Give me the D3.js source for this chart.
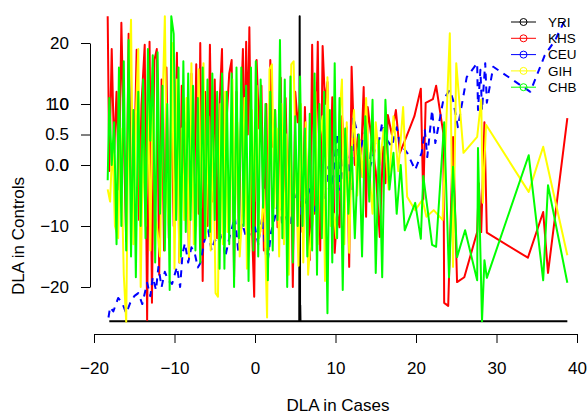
<!DOCTYPE html>
<html>
<head>
<meta charset="utf-8">
<script src="https://cdn.jsdelivr.net/npm/d3@7"></script>
<style>
  body { margin: 0; background: #fff; }
  svg { font-family: "Liberation Sans", Arial, sans-serif; }
</style>
</head>
<body>
<svg id="chart" width="587" height="414"></svg>
<script>
// series names, in drawing order
var groups = ["YRI", "KHS", "CEU", "GIH", "CHB"];
var xTicks = [-20, -10, 0, 10, 20, 30, 40];
var yTicks = [-20, -10, 0, 10, 20];
var yTicksSmall = [0.0, 0.5, 1.0];

// [DLA in Cases, DLA in Controls]
var yri = [[-18.1,-25.6],[-10.0,-25.6],[0.0,-25.6],[5.5,-25.6],[5.55,24.4],[5.6,-25.6],[5.62,-23.0],[5.65,-25.6],
  [10.0,-25.6],[20.0,-25.6],[30.0,-25.6],[38.8,-25.6]];

var khs = [[-18.3,24.4],[-18.1,-1.0],[-17.8,19.0],[-17.5,2.0],[-17.2,12.0],[-16.9,-4.0],[-16.6,23.3],[-16.3,5.0],
  [-16.0,-12.5],[-15.7,21.5],[-15.4,-4.0],[-15.1,-6.0],[-14.7,18.9],[-14.4,-9.0],[-14.1,10.0],[-13.7,19.7],
  [-13.4,-25.4],[-13.1,20.2],[-12.8,-22.6],[-12.5,17.2],[-12.2,19.0],[-11.9,-18.0],[-11.6,14.0],[-11.3,-14.0],
  [-11.0,16.0],[-10.7,-12.0],[-10.4,11.0],[-10.1,-10.0],[-9.7,18.4],[-9.4,-16.0],[-9.1,13.0],[-8.8,-6.0],
  [-8.5,7.0],[-8.2,-15.1],[-7.9,15.0],[-7.6,-9.0],[-7.3,16.5],[-7.0,-8.0],[-6.8,20.0],[-6.5,-19.0],
  [-6.2,12.0],[-5.9,-10.0],[-5.6,19.7],[-5.3,-6.0],[-5.0,14.0],[-4.7,-12.0],[-4.4,10.0],[-4.1,19.0],
  [-3.8,-10.2],[-3.5,8.0],[-3.2,15.0],[-2.9,17.2],[-2.6,-18.4],[-2.3,12.0],[-2.0,-12.0],[-1.7,11.0],
  [-1.5,19.0],[-1.3,0.0],[-1.1,20.2],[-0.9,5.0],[-0.7,22.6],[-0.4,-9.0],[-0.1,-21.6],[0.2,17.2],
  [0.5,6.0],[0.8,13.0],[1.1,-14.0],[1.4,10.0],[1.7,-13.9],[1.9,17.2],[2.2,3.0],[2.5,9.0],
  [2.8,-10.2],[3.2,14.3],[3.5,-12.0],[3.8,11.0],[4.1,-6.0],[4.4,8.0],[4.7,-20.0],[5.0,12.0],
  [5.3,7.0],[5.6,10.0],[5.9,-11.0],[6.2,9.5],[6.5,-5.0],[6.8,-15.6],[7.1,19.7],[7.4,-8.0],
  [7.8,20.2],[8.1,-14.0],[8.4,19.5],[8.7,10.0],[9.0,13.6],[9.3,-6.0],[9.6,11.1],[9.9,-14.4],
  [10.2,-8.0],[10.5,-10.2],[10.8,8.0],[11.1,3.0],[11.4,6.2],[11.7,-16.7],[12.0,16.1],[12.4,0.0],
  [12.8,5.0],[13.1,-2.0],[13.5,12.8],[13.8,-8.5],[14.0,9.5],[14.5,4.0],[15.0,-1.0],[15.5,-11.8],
  [15.9,3.0],[16.2,-3.0],[16.5,8.2],[17.0,5.0],[17.5,9.0],[18.0,2.0],[18.8,4.6],[19.8,8.0],
  [20.6,12.5],[20.9,-5.7],[21.2,10.2],[22.1,10.8],[22.5,13.0],[23.4,5.2],[23.5,-22.6],[24.0,-23.1],
  [24.6,4.6],[25.1,-19.2],[26.0,-18.4],[27.6,-11.0],[27.8,-3.0],[28.1,-11.0],[28.5,7.0],[28.8,-11.1],
  [33.9,-15.2],[35.8,-7.7],[36.4,-17.7],[38.8,7.7]];

var ceu = [[-18.2,-25.0],[-18.0,-23.3],[-17.6,-24.0],[-17.0,-21.8],[-16.5,-22.6],[-16.0,-24.3],[-15.5,-22.6],[-15.0,-21.5],
  [-14.5,-21.0],[-14.0,-22.8],[-13.4,-19.3],[-13.0,-21.5],[-12.7,-18.4],[-12.3,-20.5],[-12.0,-16.7],[-11.6,-20.0],
  [-11.2,-17.5],[-10.8,-18.9],[-10.3,-19.5],[-9.7,-16.7],[-9.3,-20.0],[-9.0,-14.5],[-8.7,-12.8],[-8.3,-16.0],
  [-7.9,-13.5],[-7.5,-14.4],[-7.1,-16.8],[-6.8,-16.1],[-6.3,-12.5],[-5.8,-10.7],[-5.4,-14.0],[-5.0,-12.3],
  [-4.5,-13.0],[-4.1,-11.0],[-3.7,-15.1],[-3.2,-12.0],[-2.8,-10.0],[-2.5,-8.5],[-2.1,-13.9],[-1.6,-9.5],
  [-1.0,-12.3],[-0.5,-11.0],[0.0,-10.2],[0.4,-13.0],[0.9,-8.5],[1.2,-12.5],[1.5,-16.7],[2.0,-11.0],
  [2.5,-8.5],[2.9,-5.7],[3.4,-10.0],[4.0,-7.4],[4.4,-9.5],[4.8,-6.0],[5.2,-4.6],[5.6,-8.0],
  [6.0,-2.5],[6.2,-6.2],[6.8,-4.0],[7.4,-7.5],[8.0,-3.0],[8.7,-5.7],[9.1,-0.3],[9.6,-3.5],
  [10.2,5.2],[10.6,-4.1],[11.0,1.0],[11.4,2.0],[11.8,-2.0],[12.0,-4.1],[12.2,7.9],[12.8,4.9],
  [13.2,3.0],[13.7,5.7],[14.3,-0.3],[14.9,2.5],[15.4,4.0],[15.8,6.9],[16.1,4.6],[17.0,3.0],
  [17.6,6.2],[18.0,3.6],[18.9,2.0],[19.9,-0.8],[20.7,2.0],[21.1,5.7],[21.4,1.3],[22.0,9.0],
  [22.4,3.6],[23.4,10.7],[24.2,12.3],[24.6,10.7],[25.2,6.2],[26.3,14.4],[27.6,16.7],[27.7,9.0],
  [28.0,15.6],[28.2,9.0],[28.6,16.7],[28.8,10.2],[29.6,16.1],[34.2,12.0],[36.0,18.0],[37.3,20.5],
  [38.5,23.8]];

var gih = [[-18.3,-4.0],[-18.0,-6.0],[-17.7,4.0],[-17.4,-10.0],[-17.0,-12.0],[-16.7,6.0],[-16.3,-18.0],[-16.0,-25.7],
  [-15.7,10.0],[-15.4,23.8],[-15.1,-13.0],[-14.8,8.0],[-14.5,19.0],[-14.2,-20.0],[-13.9,5.0],[-13.6,-10.0],
  [-13.3,12.0],[-13.0,-14.0],[-12.7,16.0],[-12.4,-8.0],[-12.1,-11.0],[-11.8,-15.0],[-11.5,9.0],[-11.2,24.4],
  [-10.9,-6.0],[-10.6,-12.0],[-10.3,20.0],[-10.0,-17.0],[-9.7,14.0],[-9.4,-16.0],[-9.1,6.0],[-8.8,-9.0],
  [-8.5,11.0],[-8.2,-15.0],[-7.9,16.7],[-7.6,-13.0],[-7.3,-10.0],[-7.0,15.7],[-6.7,-7.0],[-6.4,16.7],
  [-6.1,-12.0],[-5.8,8.0],[-5.5,-14.0],[-5.2,5.0],[-4.9,-21.0],[-4.6,-21.6],[-4.3,10.0],[-4.0,-13.0],
  [-3.7,12.0],[-3.4,-11.0],[-3.1,-9.0],[-2.8,14.0],[-2.5,-9.0],[-2.2,7.0],[-1.9,-15.0],[-1.6,-8.0],
  [-1.3,11.0],[-1.0,-17.0],[-0.7,-14.0],[-0.4,9.0],[-0.1,-6.0],[0.2,13.0],[0.5,-12.0],[0.8,-10.0],
  [1.1,-4.0],[1.5,-25.0],[1.8,15.7],[2.1,16.5],[2.4,-7.0],[2.7,6.0],[3.0,-15.0],[3.3,10.0],
  [3.6,-13.0],[3.9,5.0],[4.2,-18.0],[4.5,16.5],[4.8,17.0],[5.1,-3.0],[5.4,-16.5],[5.7,10.0],
  [6.0,-16.0],[6.3,7.0],[6.6,-18.0],[6.9,-12.0],[7.2,-9.0],[7.5,12.0],[7.8,-13.0],[8.1,5.0],
  [8.4,8.0],[8.7,-19.0],[9.0,14.4],[9.4,-10.0],[9.8,-8.0],[10.1,-12.0],[10.5,8.0],[10.8,14.0],
  [11.1,-13.0],[11.4,7.0],[11.7,-14.4],[12.0,2.0],[12.3,9.0],[12.7,-5.0],[13.0,4.0],[13.4,-2.0],
  [13.8,11.0],[14.1,1.0],[14.6,-8.0],[15.0,7.0],[15.5,0.0],[16.0,6.0],[16.6,-4.0],[17.2,8.0],
  [17.8,-1.0],[18.4,9.5],[18.9,-5.2],[19.9,-7.4],[20.8,-5.7],[21.3,-8.5],[22.2,-7.4],[23.3,-9.0],
  [24.2,21.6],[24.6,-16.7],[25.0,16.7],[25.9,2.0],[27.6,4.6],[28.1,10.7],[28.3,-6.2],[28.7,6.6],
  [34.0,-4.4],[35.8,3.0],[38.8,-14.8]];

var chb = [[-18.3,-2.5],[-18.1,11.0],[-17.8,0.0],[-17.5,7.0],[-17.2,-13.0],[-16.9,16.0],[-16.6,-10.0],[-16.3,17.0],
  [-16.0,-14.0],[-15.7,20.5],[-15.4,-15.0],[-15.1,9.0],[-14.8,-18.4],[-14.5,12.0],[-14.2,-10.0],[-13.9,14.0],
  [-13.6,-12.0],[-13.3,19.0],[-13.0,4.0],[-12.7,18.0],[-12.4,-16.0],[-12.1,18.5],[-11.8,-8.0],[-11.5,13.0],
  [-11.2,-14.0],[-10.9,10.0],[-10.6,-20.5],[-10.4,24.4],[-10.1,21.5],[-9.8,-9.0],[-9.5,16.0],[-9.2,-15.0],
  [-8.9,17.0],[-8.6,-11.0],[-8.3,15.0],[-8.0,-9.0],[-7.7,13.0],[-7.4,-14.0],[-7.1,11.0],[-6.8,-16.0],
  [-6.5,16.0],[-6.2,-12.0],[-5.9,14.0],[-5.6,-11.0],[-5.3,15.0],[-5.0,-9.0],[-4.7,12.0],[-4.4,-17.0],
  [-4.1,15.0],[-3.8,-17.0],[-3.5,12.0],[-3.2,-13.0],[-2.9,15.0],[-2.6,-20.0],[-2.3,16.0],[-2.0,-12.0],
  [-1.7,16.0],[-1.4,-10.0],[-1.1,13.0],[-0.8,-19.0],[-0.5,16.0],[-0.2,-14.0],[0.1,17.0],[0.4,-15.0],
  [0.7,14.0],[1.0,-7.0],[1.3,10.0],[1.6,-18.9],[1.9,12.0],[2.2,-14.0],[2.5,9.0],[2.8,-9.0],
  [3.1,20.5],[3.4,-12.0],[3.7,14.0],[4.0,-20.0],[4.4,14.5],[4.7,-16.0],[5.0,8.0],[5.3,-10.0],
  [5.6,14.5],[5.9,-10.0],[6.2,6.0],[6.5,-15.0],[6.8,8.4],[7.1,-14.0],[7.4,15.0],[7.7,-18.0],
  [8.0,10.0],[8.3,-12.0],[8.6,12.0],[9.0,-24.3],[9.3,9.0],[9.6,-16.0],[9.9,16.7],[10.2,-12.0],
  [10.5,11.0],[10.9,-20.5],[11.2,6.0],[11.6,-8.0],[12.0,3.0],[12.4,-12.0],[12.9,5.0],[13.3,-15.0],
  [13.7,8.0],[14.2,-6.0],[14.6,10.7],[15.0,-17.7],[15.4,4.0],[15.8,-18.4],[16.2,10.7],[16.7,-4.0],
  [17.2,2.0],[17.6,-8.0],[18.1,0.0],[18.6,-10.7],[19.9,-6.2],[20.6,-12.1],[20.9,-1.8],[21.4,-6.9],
  [22.0,-13.1],[22.5,-13.4],[23.5,7.0],[24.1,-18.4],[24.6,-0.3],[25.1,-15.1],[26.1,-10.7],[27.6,-18.9],
  [27.7,2.8],[28.2,-25.6],[28.5,-15.6],[28.8,-18.5],[34.0,1.6],[35.8,-18.9],[36.4,-3.3],[38.8,-19.3]];

var seriesData = [yri, khs, ceu, gih, chb];

function buildLineChart(opts) {

  var svg = d3.select('#' + opts.svgID);

  var x = d3.scaleLinear().domain([-20, 40]).range([94, 577]);
  var y = d3.scaleLinear().domain([-20, 20]).range([287, 43]);
  // second, overlapping axis left from an earlier plot (0 to 1)
  var ySmall = d3.scaleLinear().domain([0, 1]).range([165, 104]);

  var line = d3.line()
      .x(function(d) { return x(d[0]); })
      .y(function(d) { return y(d[1]); });

  var colors = ["#000000", "#ff0000", "#0000ff", "#ffff00", "#00ff00"];

  opts.data.forEach(function(s, i) {
    svg.append("path")
        .datum(s)
        .attr("fill", "none")
        .attr("stroke", colors[i])
        .attr("stroke-width", 2)
        .attr("stroke-linejoin", "round")
        .attr("stroke-dasharray", groups[i] == "CEU" ? "7,6" : null)
        .attr("d", line);
  });

  var xAxis = d3.axisBottom(x).tickValues(xTicks).tickSize(9).tickSizeOuter(0).tickPadding(19);
  var yAxis = d3.axisLeft(y).tickValues(yTicks).tickSize(9).tickSizeOuter(0).tickPadding(12);
  var yAxis2 = d3.axisLeft(ySmall).tickValues(yTicksSmall).tickSize(9).tickSizeOuter(0).tickPadding(12)
      .tickFormat(d3.format(".1f"));

  svg.append("g")
      .attr("transform", "translate(0,334)")
      .call(xAxis);

  svg.append("g")
      .attr("transform", "translate(90,0)")
      .call(yAxis);

  svg.append("g")
      .attr("transform", "translate(90,0)")
      .call(yAxis2);

  svg.selectAll(".tick text").attr("font-size", null).style("font-size", "17px");
  svg.selectAll("g").attr("font-family", null).attr("font-size", null);

  svg.append("text")
      .attr("x", 338)
      .attr("y", 411)
      .attr("text-anchor", "middle")
      .style("font-size", "17px")
      .text("DLA in Cases");

  svg.append("text")
      .attr("transform", "translate(24,236) rotate(-90)")
      .attr("text-anchor", "middle")
      .style("font-size", "17px")
      .text("DLA in Controls");

  // legend, no box
  var legend = svg.append("g").attr("class", "legend");
  groups.forEach(function(g, i) {
    var ly = 22 + i * 16.3;
    legend.append("line")
        .attr("x1", 511).attr("x2", 536)
        .attr("y1", ly).attr("y2", ly)
        .attr("stroke", colors[i])
        .attr("stroke-width", 1);
    legend.append("circle")
        .attr("cx", 523.5).attr("cy", ly).attr("r", 3.5)
        .attr("fill", "none")
        .attr("stroke", colors[i])
        .attr("stroke-width", 1);
    legend.append("text")
        .attr("x", 548).attr("y", ly)
        .attr("dy", "0.36em")
        .style("font-size", "13.5px")
        .text(g);
  });
}

buildLineChart({svgID: "chart", data: seriesData});
</script>
</body>
</html>
